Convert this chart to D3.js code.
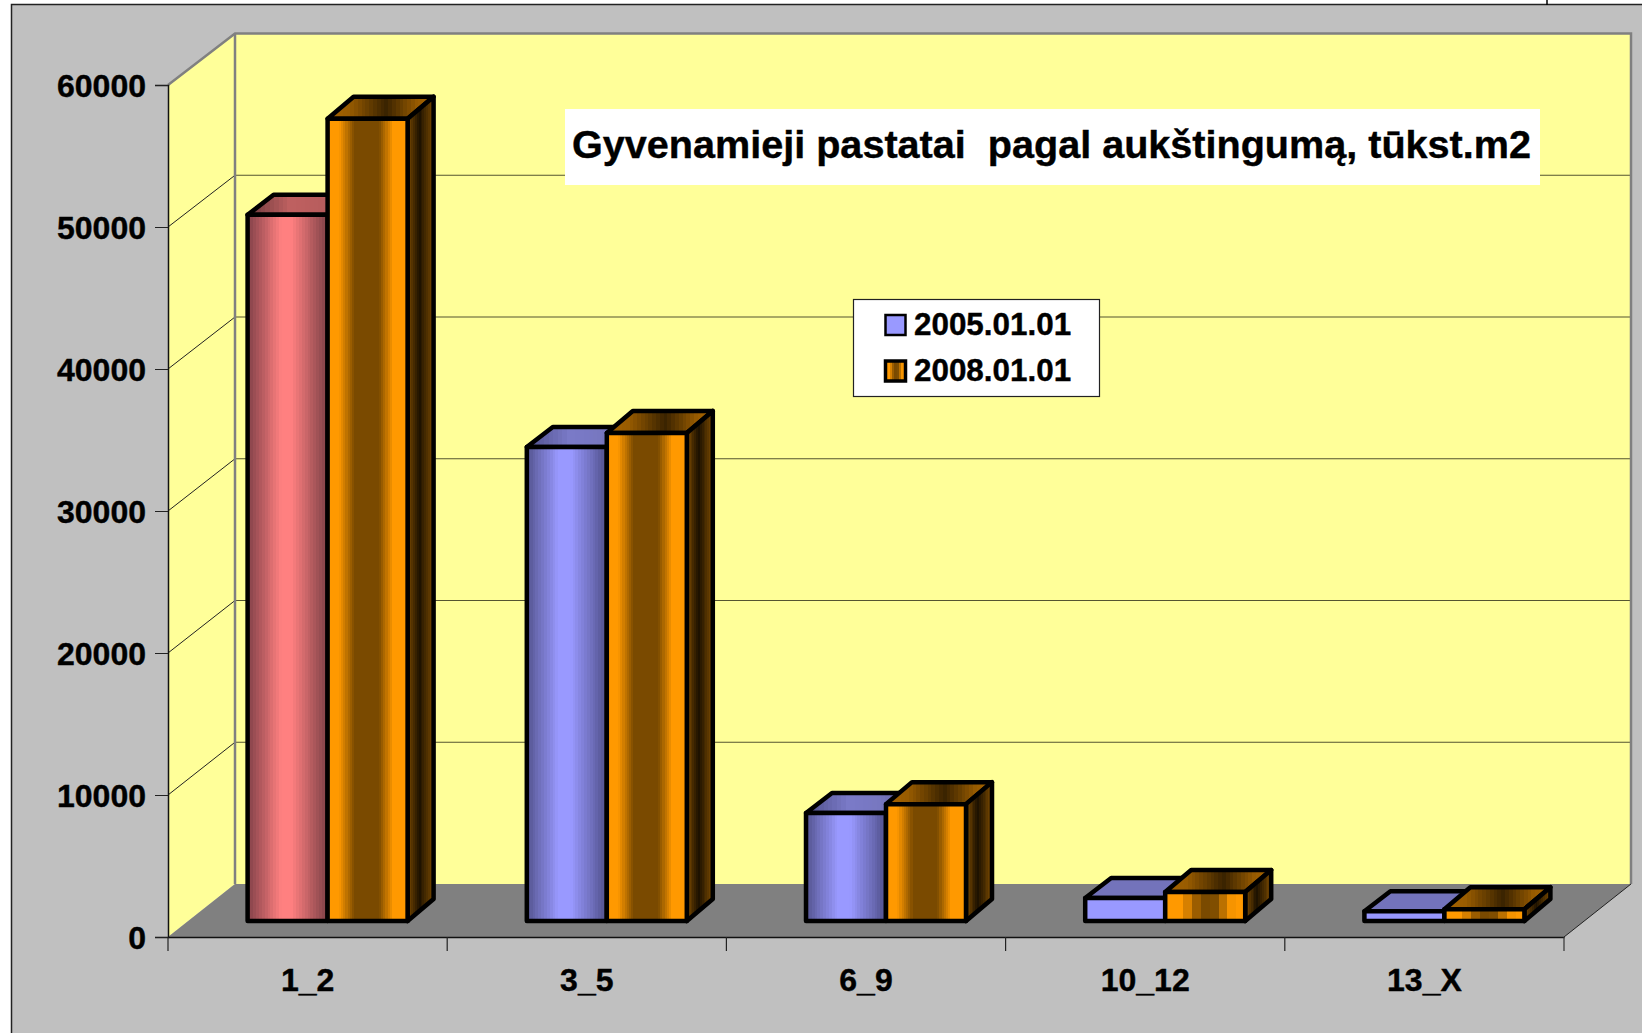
<!DOCTYPE html>
<html><head><meta charset="utf-8">
<script src="https://cdn.jsdelivr.net/npm/d3@7"></script>
<style>html,body{margin:0;padding:0;background:#fff;overflow:hidden}svg{display:block}text{font-family:"Liberation Sans",Arial,sans-serif;font-weight:bold;fill:#000;stroke:#000;stroke-width:.4px}</style>
</head><body><svg id="c" width="1642" height="1033"></svg>
<script>
const categories = ["1_2","3_5","6_9","10_12","13_X"];
const series2005 = [49730,33380,7610,1620,690];
const series2008 = [56500,34370,8230,2040,830];
const seriesNames = ["2005.01.01","2008.01.01"];
const yTicks = [0,10000,20000,30000,40000,50000,60000];
const chartTitle = "Gyvenamieji pastatai  pagal aukštingumą, tūkst.m2";
const flatBlueCategories = ["10_12","13_X"];

const L=168,R=1564,Y0=937,Y1=85,DX=67,BACK0=884,BACK1=33.5;
const barDX=26,shiftX=20,shiftY=16,barW=80;
const barDYs=[20,22];
const svg=d3.select("#c");
const y=d3.scaleLinear().domain([0,60000]).range([Y0,Y1]);
const yBack=d3.scaleLinear().domain([0,60000]).range([BACK0,BACK1]);
const x=d3.scaleBand().domain(categories).range([L,R]);
const defs=svg.append("defs");
function grad(id,stops,n){
  const g=defs.append("linearGradient").attr("id",id).attr("x1",0).attr("x2",1).attr("y1",0).attr("y2",0);
  const ci=d3.scaleLinear().domain(stops.map(s=>s[0])).range(stops.map(s=>s[1])).interpolate(d3.interpolateRgb);
  for(let i=0;i<n;i++){const c=ci((i+.5)/n);
    g.append("stop").attr("offset",i/n).attr("stop-color",c);
    g.append("stop").attr("offset",(i+1)/n).attr("stop-color",c);}
}
grad("bF",[[0,"#54548f"],[.4,"#9999ff"],[.55,"#9999ff"],[1,"#50508a"]],28);
grad("bT",[[0,"#50508a"],[.4,"#7a7ac8"],[.7,"#7777c0"],[1,"#606099"]],24);
grad("pF",[[0,"#804048"],[.42,"#ff8080"],[.55,"#ff8080"],[1,"#7c4046"]],28);
grad("pT",[[0,"#6c3a3e"],[.4,"#bf6060"],[1,"#b05a5a"]],24);
grad("oF",[[0,"#ff9900"],[.14,"#ff9900"],[.34,"#7a4a00"],[.64,"#7a4a00"],[.82,"#ff9900"],[1,"#ff9900"]],36);
grad("oT",[[0,"#a56300"],[.2,"#995c00"],[.55,"#3a2300"],[.85,"#995c00"],[1,"#a56300"]],28);
grad("oS",[[0,"#7a4a00"],[.45,"#1c1100"],[1,"#7a4a00"]],14);
grad("oL",[[0,"#ff9900"],[.2,"#ff9900"],[.45,"#7a4a00"],[.6,"#7a4a00"],[.85,"#ff9900"],[1,"#ff9900"]],9);

// page background and frame
svg.append("rect").attr("x",11.5).attr("y",4.5).attr("width",1640).attr("height",1040).attr("fill","#c0c0c0").attr("stroke","#222").attr("stroke-width",1.5);
svg.append("line").attr("x1",1547).attr("x2",1547).attr("y1",0).attr("y2",5).attr("stroke","#000").attr("stroke-width",1.5);

const pts=a=>a.map(p=>p.join(",")).join(" ");
const BL=L+DX,BR=R+DX;
// walls
svg.append("polygon").attr("points",pts([[L,Y1],[BL,BACK1],[BL,BACK0],[L,Y0]])).attr("fill","#ffff99");
svg.append("polygon").attr("points",pts([[BL,BACK1],[BR,BACK1],[BR,BACK0],[BL,BACK0]])).attr("fill","#ffff99");
svg.append("polygon").attr("points",pts([[L,Y0],[BL,BACK0],[BR,BACK0],[R,Y0]])).attr("fill","#808080");
// gridlines
const grid=svg.append("g");
yTicks.filter(t=>t>0&&t<60000).forEach(t=>{
  grid.append("line").attr("x1",BL).attr("x2",BR).attr("y1",yBack(t)).attr("y2",yBack(t)).attr("stroke","#555530").attr("stroke-width",1.2);
  grid.append("line").attr("x1",L).attr("x2",BL).attr("y1",y(t)).attr("y2",yBack(t)).attr("stroke","#222").attr("stroke-width",1);
});
svg.append("polyline").attr("points",pts([[L,Y1],[BL,BACK1],[BR,BACK1],[BR,BACK0]])).attr("fill","none").attr("stroke","#808080").attr("stroke-width",2.5);
svg.append("line").attr("x1",BL).attr("x2",BL).attr("y1",BACK1).attr("y2",BACK0).attr("stroke","#808080").attr("stroke-width",2.5);
svg.append("line").attr("x1",R).attr("x2",BR).attr("y1",Y0).attr("y2",BACK0).attr("stroke","#222").attr("stroke-width",1);

// axes
const yAxis=d3.axisLeft(y).tickValues(yTicks).tickFormat(d3.format("d")).tickSize(13).tickPadding(9);
const gy=svg.append("g").attr("transform",`translate(${L},0)`).call(yAxis);
const xAxis=d3.axisBottom(x).tickSize(0).tickPadding(31);
const gx=svg.append("g").attr("transform",`translate(0,${Y0})`).call(xAxis);
gx.selectAll(".tick").append("line").attr("x1",-x.step()/2).attr("x2",-x.step()/2).attr("y2",14).attr("stroke","#222").attr("stroke-width",1.2);
gx.append("line").attr("x1",R).attr("x2",R).attr("y2",14).attr("stroke","#333").attr("stroke-width",1.2);
[gy,gx].forEach(g=>{g.selectAll(".domain").attr("stroke","#111").attr("stroke-width",1.5);
  g.selectAll("text").style("font-size","32px").attr("fill","#000");
  g.selectAll(".tick line").attr("stroke","#222");});
gy.selectAll("text").attr("dy","0.36em");
gx.selectAll(".tick text").attr("dy","0.72em");

// bars
const bars=svg.append("g").attr("stroke","#000").attr("stroke-width",4.5).attr("stroke-linejoin","round");
function bar(cat,val,i){
  const cx=x(cat)+x.step()/2+shiftX, x0=cx+(i-1)*barW, x1=x0+barW;
  const yb=y(0)-shiftY, yt=y(val)-shiftY, d=barDYs[i];
  const flat=i===0&&flatBlueCategories.includes(cat);
  let front,top;
  if(i===1){front="url(#oF)";top="url(#oT)";if(yb-yt<30)front="url(#oL)";}
  else if(cat===categories[0]){front="url(#pF)";top="url(#pT)";}
  else if(flat){front="#9999ff";top="#7373bb";}
  else {front="url(#bF)";top="url(#bT)";}
  bars.append("polygon").attr("points",pts([[x0,yt],[x1,yt],[x1+barDX,yt-d],[x0+barDX,yt-d]])).attr("fill",top);
  if(i===1)bars.append("polygon").attr("points",pts([[x1,yt],[x1+barDX,yt-d],[x1+barDX,yb-d],[x1,yb]])).attr("fill","url(#oS)");
  bars.append("rect").attr("x",x0).attr("y",yt).attr("width",barW).attr("height",yb-yt).attr("fill",front);
}
categories.forEach((c,k)=>{bar(c,series2005[k],0);bar(c,series2008[k],1);});

// title
svg.append("rect").attr("x",565).attr("y",109).attr("width",975).attr("height",76).attr("fill","#fff");
svg.append("text").attr("x",572).attr("y",158).style("font-size","39.6px").style("white-space","pre").text(chartTitle);

// legend
const lg=svg.append("g");
lg.append("rect").attr("x",853.5).attr("y",299.5).attr("width",246).attr("height",97).attr("fill","#fff").attr("stroke","#222").attr("stroke-width",1.2);
lg.append("rect").attr("x",885.5).attr("y",315).attr("width",20).attr("height",20).attr("fill","#9999ff").attr("stroke","#000").attr("stroke-width",2.5);
lg.append("rect").attr("x",885.5).attr("y",361).attr("width",20).attr("height",20).attr("fill","url(#oL)").attr("stroke","#000").attr("stroke-width",3.5);
seriesNames.forEach((s,i)=>lg.append("text").attr("x",914).attr("y",335+i*46).style("font-size","31.4px").text(s));
</script></body></html>
